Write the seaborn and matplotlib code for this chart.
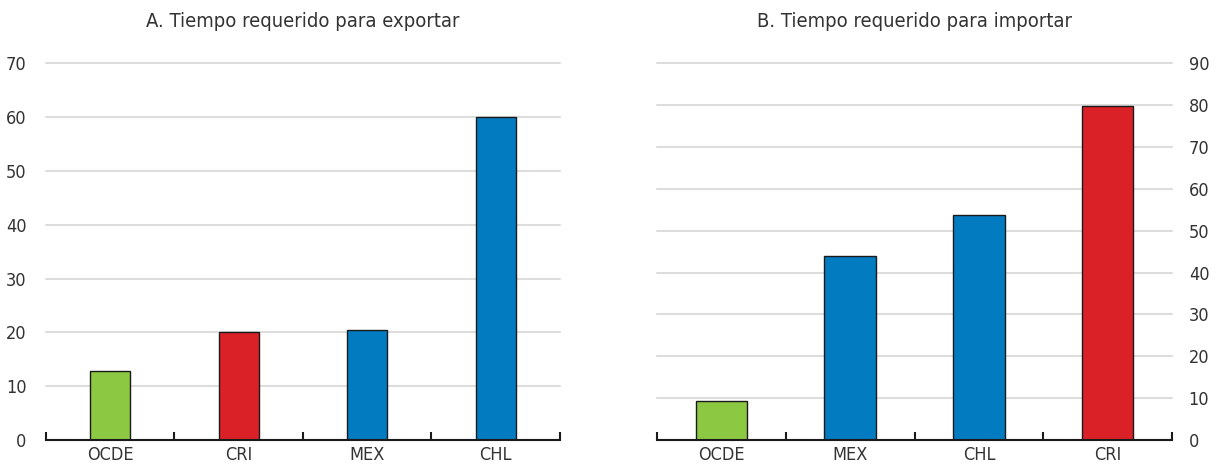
import pandas as pd
import numpy as np
import seaborn as sns
import matplotlib.pyplot as plt
from matplotlib.ticker import FixedLocator

# Panel A: export
exp_countries = ['OCDE', 'CRI', 'MEX', 'CHL']
exp_hours = [12.8, 20.0, 20.4, 60.0]
# Panel B: import
imp_countries = ['OCDE', 'MEX', 'CHL', 'CRI']
imp_hours = [9.4, 44.0, 53.8, 79.8]

colors = {'OCDE': '#8cc841', 'CRI': '#da2128', 'MEX': '#037bc1', 'CHL': '#037bc1'}

sns.set_style('white')
plt.rcParams['font.family'] = ['Liberation Sans Narrow', 'DejaVu Sans']
plt.rcParams['font.stretch'] = 'condensed'
plt.rcParams['text.color'] = '#333333'
plt.rcParams['xtick.color'] = '#333333'
plt.rcParams['ytick.color'] = '#333333'

fig = plt.figure(figsize=(12.19, 4.70), dpi=100)
ax1 = fig.add_axes([0.0377, 0.0638, 0.4217, 0.8017])
ax2 = fig.add_axes([0.539, 0.0638, 0.4225, 0.8017])

def draw(ax, cats, vals, ymax, width, title, right=False):
    df = pd.DataFrame({'pais': cats, 'horas': vals})
    sns.barplot(data=df, x='pais', y='horas', hue='pais', palette=colors,
                legend=False, width=width, saturation=1, edgecolor='#1a1a1a',
                linewidth=1.0, ax=ax, zorder=3)
    ax.set_xlim(-0.5, len(cats) - 0.5)
    ax.set_ylim(0, ymax)
    ax.set_yticks(np.arange(0, ymax + 1, 10))
    ax.grid(axis='y', color='#dddddd', linewidth=1.5, zorder=0)
    ax.set_axisbelow(True)
    # keep the top gridline from being clipped in half
    for gl in ax.get_ygridlines():
        gl.set_clip_on(False)
    for s in ['top', 'left', 'right']:
        ax.spines[s].set_visible(False)
    ax.spines['bottom'].set_color('#1a1a1a')
    ax.spines['bottom'].set_linewidth(1.5)
    ax.spines['bottom'].set_zorder(5)
    ax.xaxis.set_minor_locator(FixedLocator(np.arange(-0.5, len(cats), 1.0)))
    ax.tick_params(axis='x', which='minor', direction='in', length=6, width=1.5,
                   color='#1a1a1a', bottom=True)
    ax.tick_params(axis='x', which='major', length=0, labelsize=13, pad=4)
    ax.tick_params(axis='y', length=0, labelsize=13, pad=14)
    if right:
        ax.yaxis.tick_right()
        ax.tick_params(axis='y', pad=12)
    ax.set_xlabel('')
    ax.set_ylabel('')
    ax.set_title(title, fontsize=14.5, pad=26)

draw(ax1, exp_countries, exp_hours, 70, 0.31, 'A. Tiempo requerido para exportar')
draw(ax2, imp_countries, imp_hours, 90, 0.40, 'B. Tiempo requerido para importar', right=True)

fig.savefig('out.png', dpi=100)
